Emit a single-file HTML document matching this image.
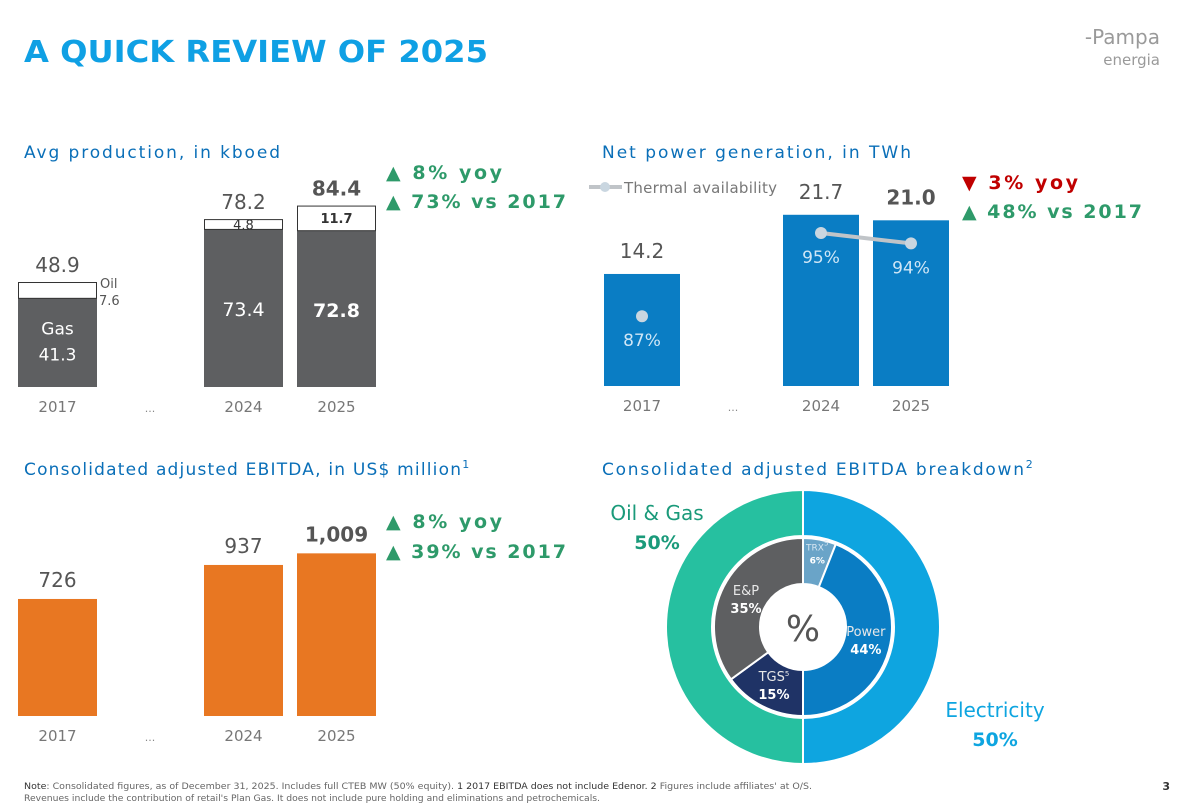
<!DOCTYPE html>
<html><head><meta charset="utf-8"><style>
html,body{margin:0;padding:0;background:#fff;}
body{width:1181px;height:812px;overflow:hidden;position:relative;font-family:"DejaVu Sans","Liberation Sans",sans-serif;}
svg{position:absolute;left:0;top:0;}
</style></head><body>
<svg id="s" width="1181" height="812" viewBox="0 0 1181 812" font-family="DejaVu Sans, Liberation Sans, sans-serif">
<text x="24" y="62" font-size="30" font-weight="bold" fill="#0fa0e4" textLength="464" lengthAdjust="spacingAndGlyphs">A QUICK REVIEW OF 2025</text>
<g>
<text x="1160" y="44" text-anchor="end" font-size="20" fill="#9a9a9a">-Pampa</text>
<text x="1160" y="65" text-anchor="end" font-size="15" fill="#9a9a9a">energia</text>
</g>
<text x="24" y="158" font-size="17" fill="#0a6fb8" textLength="256">Avg production, in kboed</text>
<text x="602" y="158" font-size="17" fill="#0a6fb8" textLength="309">Net power generation, in TWh</text>
<text x="24" y="475" font-size="17" fill="#0a6fb8"><tspan textLength="437">Consolidated adjusted EBITDA, in US$ million</tspan><tspan font-size="11" dy="-7">1</tspan></text>
<text x="602" y="475" font-size="17" fill="#0a6fb8"><tspan textLength="422">Consolidated adjusted EBITDA breakdown</tspan><tspan font-size="11" dy="-7">2</tspan></text>
<g id="prod"></g>
<g id="pow"></g>
<g id="ebit"></g>
<g id="donut"></g>
<g font-size="19" font-weight="bold" fill="#2e9a6a">
<text x="386" y="179" textLength="116">▲ 8% yoy</text><text x="386" y="208" textLength="180">▲ 73% vs 2017</text></g>
<g font-size="19" font-weight="bold">
<text x="962" y="189" fill="#c00000" textLength="116">▼ 3% yoy</text><text x="962" y="218" fill="#2e9a6a" textLength="180">▲ 48% vs 2017</text></g>
<g font-size="19" font-weight="bold" fill="#2e9a6a">
<text x="386" y="528" textLength="116">▲ 8% yoy</text><text x="386" y="558" textLength="180">▲ 39% vs 2017</text></g>
<g font-size="8.5" fill="#666">
<text x="24" y="789" textLength="788" lengthAdjust="spacingAndGlyphs"><tspan fill="#333">Note</tspan>: Consolidated figures, as of December 31, 2025. Includes full CTEB MW (50% equity). <tspan fill="#333">1 2017 EBITDA does not include Edenor.</tspan> <tspan fill="#333">2</tspan> Figures include affiliates' at O/S.</text>
<text x="24" y="801" textLength="576" lengthAdjust="spacingAndGlyphs">Revenues include the contribution of retail's Plan Gas. It does not include pure holding and eliminations and petrochemicals.</text></g>
<text x="1170" y="790" text-anchor="end" font-size="11" font-weight="bold" fill="#333">3</text>
</svg>
<script>
const NS="http://www.w3.org/2000/svg";
function mk(p,tag,a,txt){const e=document.createElementNS(NS,tag);for(const k in a)e.setAttribute(k,a[k]);if(txt!==undefined)e.textContent=txt;p.appendChild(e);return e;}
// production
const prodYears=["2017","2024","2025"];
const prodGas=[41.3,73.4,72.8];
const prodOil=[7.6,4.8,11.7];
const prodTotal=[48.9,78.2,84.4];
// power
const powYears=["2017","2024","2025"];
const powTwh=[14.2,21.7,21.0];
const powAvail=[87,95,94];
// ebitda
const ebYears=["2017","2024","2025"];
const ebVals=[726,937,1009];
// donut
const outerLabels=["Electricity","Oil & Gas"];
const outerVals=[50,50];
const innerLabels=["TRX","Power","TGS","E&P"];
const innerVals=[6,44,15,35];

const xsL=[18,204,297], wL=79;
const xsP=[604,783,873], wP=76;
const grey="#5e5f61";
(function(){
 const g=document.getElementById('prod');const base=387,k=2.147;const y=v=>base-v*k;
 prodYears.forEach((yr,i)=>{
  const x=xsL[i];const gt=y(prodGas[i]);const tt=y(prodGas[i]+prodOil[i]);
  let r=mk(g,'rect',{x:x,y:gt,width:wL,height:base-gt,fill:grey});
  
  
  r=mk(g,'rect',{x:x+0.5,y:tt+0.5,width:wL-1,height:gt-tt-0.5,fill:'#fff',stroke:'#333','stroke-width':1});
  
  
  const cx=x+wL/2;const last=i==2;
  let t=mk(g,'text',{x:cx,y:tt-10,'text-anchor':'middle','font-size':20,fill:'#555','font-weight':last?'bold':'normal'},prodTotal[i].toFixed(1));
  
  
  if(i==0){
   mk(g,'text',{x:cx,y:y(prodGas[i]/2)-8,'text-anchor':'middle','font-size':17,fill:'#fff'},'Gas');
   mk(g,'text',{x:cx,y:y(prodGas[i]/2)+18,'text-anchor':'middle','font-size':17,fill:'#fff'},prodGas[i].toFixed(1));
   mk(g,'text',{x:x+wL+3,y:tt+6,'font-size':13,fill:'#555'},'Oil');
   mk(g,'text',{x:x+wL+2,y:tt+23,'font-size':13,fill:'#555'},prodOil[i].toFixed(1));
  }else{
   mk(g,'text',{x:cx,y:y(prodGas[i]/2)+8,'text-anchor':'middle','font-size':19,fill:'#fff','font-weight':last?'bold':'normal'},prodGas[i].toFixed(1));
   mk(g,'text',{x:cx,y:(tt+gt)/2+5,'text-anchor':'middle','font-size':13,fill:'#333','font-weight':last?'bold':'normal'},prodOil[i].toFixed(1));
  }
  t=mk(g,'text',{x:cx,y:412,'text-anchor':'middle','font-size':15,fill:'#777'},yr);
  
  
 });
 mk(g,'text',{x:150,y:412,'text-anchor':'middle','font-size':11,fill:'#888'},'...');
})();
(function(){
 const g=document.getElementById('pow');const base=386,k=7.89;const y=v=>base-v*k;
 const ay=v=>233+(95-v)*10.4;
 const pts=[];
 powYears.forEach((yr,i)=>{
  const x=xsP[i],top=y(powTwh[i]);const cx=x+wP/2;
  let r=mk(g,'rect',{x:x,y:top,width:wP,height:base-top,fill:'#0a7dc4'});
  
  
  let t=mk(g,'text',{x:cx,y:top-16,'text-anchor':'middle','font-size':20,fill:'#555','font-weight':i==2?'bold':'normal'},powTwh[i].toFixed(1));
  
  
  t=mk(g,'text',{x:cx,y:411,'text-anchor':'middle','font-size':15,fill:'#777'},yr);
  
  
  pts.push([cx,ay(powAvail[i])]);
 });
 mk(g,'line',{x1:pts[1][0],y1:pts[1][1],x2:pts[2][0],y2:pts[2][1],stroke:'#c0c4c8','stroke-width':4});
 pts.forEach((p,i)=>{
  const c=mk(g,'circle',{cx:p[0],cy:p[1],r:6,fill:'#c9d6e0'});
  
  
  mk(g,'text',{x:p[0],y:p[1]+30,'text-anchor':'middle','font-size':17,fill:'#cfe6f6'},powAvail[i]+'%');
 });
 mk(g,'text',{x:733,y:411,'text-anchor':'middle','font-size':11,fill:'#888'},'...');
 const lg=mk(g,'g',{});
 
 
 mk(lg,'line',{x1:589,y1:187,x2:622,y2:187,stroke:'#c0c4c8','stroke-width':4});
 mk(lg,'circle',{cx:605,cy:187,r:5,fill:'#c9d6e0'});
 mk(lg,'text',{x:624,y:193,'font-size':15,fill:'#777',textLength:153},'Thermal availability');
})();
(function(){
 const g=document.getElementById('ebit');const base=716,k=0.1612;const y=v=>base-v*k;
 ebYears.forEach((yr,i)=>{
  const x=xsL[i],top=y(ebVals[i]);const cx=x+wL/2;
  let r=mk(g,'rect',{x:x,y:top,width:wL,height:base-top,fill:'#e87722'});
  
  
  let t=mk(g,'text',{x:cx,y:top-12,'text-anchor':'middle','font-size':20,fill:'#555','font-weight':i==2?'bold':'normal'},ebVals[i].toLocaleString('en-US'));
  
  
  t=mk(g,'text',{x:cx,y:741,'text-anchor':'middle','font-size':15,fill:'#777'},yr);
  
  
 });
 mk(g,'text',{x:150,y:741,'text-anchor':'middle','font-size':11,fill:'#888'},'...');
})();
(function(){
 const g=document.getElementById('donut');const cx=803,cy=627;
 function arc(r0,r1,a0,a1,fill){
  const p=(r,a)=>[cx+r*Math.sin(a),cy-r*Math.cos(a)];const lg=(a1-a0)>Math.PI?1:0;
  const A=p(r1,a0),B=p(r1,a1),C=p(r0,a1),D=p(r0,a0);
  return mk(g,'path',{d:`M${A}A${r1},${r1} 0 ${lg} 1 ${B}L${C}A${r0},${r0} 0 ${lg} 0 ${D}Z`,fill:fill,stroke:'#fff','stroke-width':2});
 }
 const oc=["#0ea5e0","#26c0a0"];let a=0;const ot=outerVals.reduce((s,v)=>s+v,0);
 outerVals.forEach((v,i)=>{const a1=a+v/ot*2*Math.PI;const e=arc(91,137,a,a1,oc[i]);
  
  a=a1;});
 const ic=["#6aa4c8","#0a7dc4","#1f3366","#5e5f61"];a=0;const it=innerVals.reduce((s,v)=>s+v,0);
 const sup=["5","","5",""];
 innerVals.forEach((v,i)=>{const a1=a+v/it*2*Math.PI;const e=arc(43,89,a,a1,ic[i]);
  
  
  const m=(a+a1)/2;const r=i==0?76:64;const x=cx+r*Math.sin(m),yy=cy-r*Math.cos(m);
  const small=i==0;
  const t=mk(g,'text',{x:x,y:yy-(small?2:3),'text-anchor':'middle','font-size':small?9:13,fill:small?'#d6e6f2':'#e8e8e8'},innerLabels[i]);
  if(sup[i]){mk(t,'tspan',{'font-size':7,dy:-5},sup[i]);}
  mk(g,'text',{x:x,y:yy+(small?11:15),'text-anchor':'middle','font-size':small?9:13,'font-weight':'bold',fill:'#fff'},v+'%');
  a=a1;});
 mk(g,'text',{x:cx,y:cy+14,'text-anchor':'middle','font-size':36,fill:'#555'},'%');
 let t=mk(g,'text',{x:657,y:520,'text-anchor':'middle','font-size':20,fill:'#1a9a7a'},outerLabels[1]);
 
 
 mk(g,'text',{x:657,y:549,'text-anchor':'middle','font-size':19,'font-weight':'bold',fill:'#1a9a7a'},outerVals[1]+'%');
 t=mk(g,'text',{x:995,y:717,'text-anchor':'middle','font-size':20,fill:'#0ea5e0'},outerLabels[0]);
 
 
 mk(g,'text',{x:995,y:746,'text-anchor':'middle','font-size':19,'font-weight':'bold',fill:'#0ea5e0'},outerVals[0]+'%');
})();
</script>
</body></html>
